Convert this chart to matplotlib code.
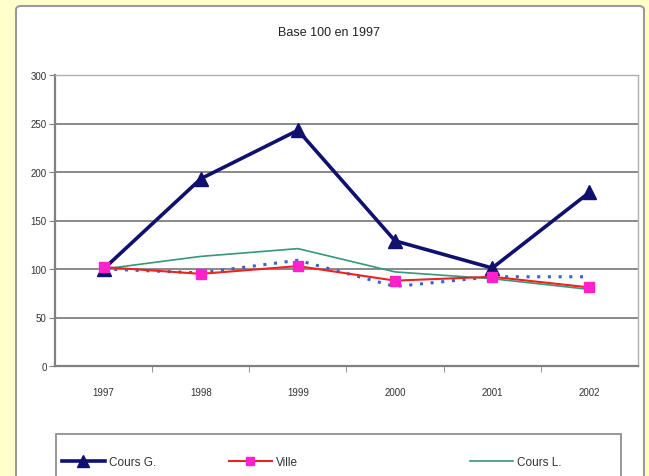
#!/usr/bin/env python3

import matplotlib
matplotlib.use("Agg")
import matplotlib.pyplot as plt
from matplotlib.patches import FancyBboxPatch, Rectangle

# Data (indices, base 100 in 1997)
years = ["1997", "1998", "1999", "2000", "2001", "2002"]
cours_g = [100, 193, 243, 129, 101, 179]
ville = [102, 95, 103, 88, 92, 81]
cours_l = [100, 113, 121, 97, 90, 79]
dotted = [100, 96, 109, 82, 92, 92]
y_ticks = [0, 50, 100, 150, 200, 250, 300]

W, H = 649, 477
plt.rcParams["font.family"] = ["Liberation Sans Narrow", "Liberation Sans", "DejaVu Sans"]

fig = plt.figure(figsize=(W / 100, H / 100), dpi=100)
fig.patch.set_facecolor("#FFFFCC")

def fx(px):
  return px / W

def fy(py):
  return 1 - py / H

# Chart area (white box with grey rounded border), kept behind the axes
chart = FancyBboxPatch((fx(16), fy(490)), fx(644) - fx(16), fy(7) - fy(490),
                       boxstyle="round,pad=0,rounding_size=0.008",
                       transform=fig.transFigure, facecolor="white",
                       edgecolor="#9a9a9a", linewidth=1.5, clip_on=False,
                       zorder=-2)
fig.patches.append(chart)

fig.text(fx(329), fy(33), "Base 100 en 1997", ha="center", va="center",
         fontsize=9, color="#222222")

ax = fig.add_axes([fx(55), fy(367), fx(638) - fx(55), fy(76) - fy(367)])
ax.set_facecolor("white")
x = list(range(len(years)))

ax.plot(x, dotted, linestyle=(0, (1, 2.5)), color="#3366CC", linewidth=2.2,
        zorder=3)
ax.plot(x, cours_l, color="#339977", linewidth=1.2, label="Cours L.", zorder=4)
ax.plot(x, cours_g, color="#10106E", linewidth=2.6, marker="^", markersize=10,
        markerfacecolor="#10106E", markeredgecolor="#10106E", label="Cours G.",
        zorder=5)
ax.plot(x, ville, color="#EE2222", linewidth=1.5, marker="s", markersize=7.5,
        markerfacecolor="#FF22CC", markeredgecolor="#FF22CC", label="Ville",
        zorder=6)

ax.set_xlim(-0.5, len(years) - 0.5)
ax.set_ylim(0, 300)
ax.set_yticks(y_ticks)
ax.set_yticklabels([str(t) for t in y_ticks])
ax.set_xticks(x)
ax.set_xticklabels(years)
ax.set_xticks([i + 0.5 for i in range(len(years) - 1)], minor=True)
ax.tick_params(axis="x", which="major", length=0, pad=15, labelsize=7,
               labelcolor="#333333")
ax.tick_params(axis="x", which="minor", length=4, direction="out",
               color="#808080")
ax.tick_params(axis="y", length=4, direction="out", color="#808080",
               labelsize=7, labelcolor="#333333", pad=2)
ax.yaxis.grid(True, color="#808080", linewidth=1.3)
ax.set_axisbelow(True)
for side in ("left", "bottom"):
  ax.spines[side].set_color("#808080")
  ax.spines[side].set_linewidth(1.6)
for side in ("top", "right"):
  ax.spines[side].set_color("#b0b0b0")
  ax.spines[side].set_linewidth(1.0)

# Legend box, cut off by the bottom of the picture
box = Rectangle((fx(56), fy(495)), fx(621) - fx(56), fy(435) - fy(495),
                transform=fig.transFigure, facecolor="white",
                edgecolor="#909090", linewidth=1.3, clip_on=False, zorder=-1)
fig.patches.append(box)

handles, labels = ax.get_legend_handles_labels()
# one small legend per entry, at the spots used in the original
for name, left in (("Cours G.", 62), ("Ville", 229), ("Cours L.", 470)):
  i = labels.index(name)
  leg = fig.legend([handles[i]], [name], loc="center left",
                   bbox_to_anchor=(fx(left), fy(463)), frameon=False,
                   fontsize=8.5, handlelength=3.6, handletextpad=0.4,
                   borderaxespad=0, borderpad=0, markerscale=0.8)
  for t in leg.get_texts():
    t.set_color("#333333")

fig.savefig("out.png", dpi=100, facecolor=fig.get_facecolor())
